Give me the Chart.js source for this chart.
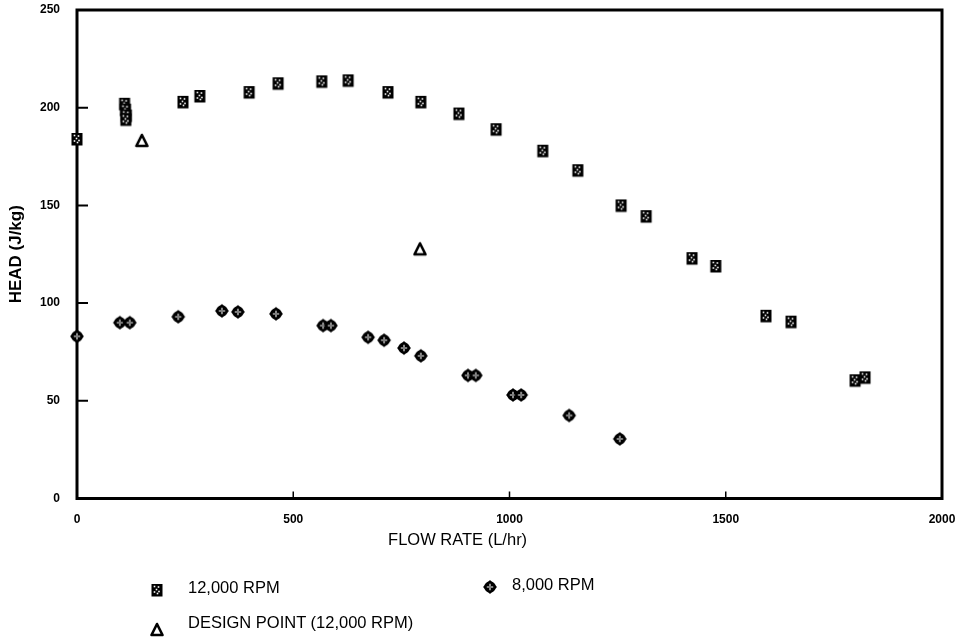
<!DOCTYPE html>
<html><head><meta charset="utf-8">
<script src="https://cdn.jsdelivr.net/npm/chart.js@4.4.1/dist/chart.umd.min.js"></script>
<style>
html,body{margin:0;padding:0;background:#fff;}
#wrap{position:relative;width:961px;height:641px;overflow:hidden;}
#c{position:absolute;left:0;top:0;}
.lg{position:absolute;font-family:"Liberation Sans",Arial,sans-serif;font-size:16.5px;color:#000;line-height:1;white-space:nowrap;}
.lm{position:absolute;}
</style></head><body>
<div id="wrap"><canvas id="c" width="961" height="641"></canvas><div id="legend"></div></div>
<script>
// ---- data ----
const seriesNames = ['12,000 RPM', '8,000 RPM', 'DESIGN POINT (12,000 RPM)'];
const flow12k = [0, 110, 112, 114, 113, 245, 284, 398, 465, 566, 627, 719, 795, 883, 969, 1077, 1158, 1258, 1316, 1422, 1477, 1593, 1651, 1799, 1822];
const head12k = [184, 202, 199, 196, 194, 203, 206, 208, 212.5, 213.5, 214, 208, 203, 197, 189, 178, 168, 150, 144.5, 123, 119, 93.5, 90.5, 60.5, 62];
const flow8k = [0, 99, 122, 234, 335, 372, 460, 569, 587, 673, 710, 756, 795, 904, 922, 1008, 1027, 1138, 1255];
const head8k = [83, 90, 90, 93, 96, 95.5, 94.5, 88.5, 88.5, 82.5, 81, 77, 73, 63, 63, 53, 53, 42.5, 30.5];
const flowDesign = [150, 793];
const headDesign = [183, 127.5];
const xTickValues = [0, 500, 1000, 1500, 2000];
const yTickValues = [0, 50, 100, 150, 200, 250];
const xTitle = 'FLOW RATE (L/hr)';
const yTitle = 'HEAD (J/kg)';

// ---- marker drawing ----
function drawMarker(g, type, c) {
  if (type === 'sq') {
    g.fillStyle = '#000';
    g.fillRect(c - 5.5, c - 6, 11, 12.5);
    g.fillStyle = '#fff';
    [[-2.5, -3.5], [1.5, -3], [-0.5, -0.5], [2, 1.5], [-2.5, 2], [0.5, 3.5]].forEach(([dx, dy]) => {
      g.fillRect(c + dx - 0.8, c + dy - 0.8, 1.6, 1.6);
    });
  } else if (type === 'dia') {
    g.fillStyle = '#000';
    g.beginPath();
    g.moveTo(c, c - 7); g.lineTo(c + 7, c); g.lineTo(c, c + 7); g.lineTo(c - 7, c); g.closePath();
    g.fill();
    g.beginPath(); g.arc(c, c, 5.8, 0, Math.PI * 2); g.fill();
    g.strokeStyle = '#fff'; g.lineWidth = 1.1;
    g.beginPath();
    g.moveTo(c - 3.2, c); g.lineTo(c + 3.2, c);
    g.moveTo(c, c - 3.2); g.lineTo(c, c + 3.2);
    g.stroke();
    g.fillStyle = '#000'; g.fillRect(c - 0.6, c - 0.6, 1.2, 1.2);
  } else {
    g.fillStyle = '#fff'; g.strokeStyle = '#000'; g.lineWidth = 2.6; g.lineJoin = 'round';
    g.beginPath();
    g.moveTo(c, c - 6); g.lineTo(c + 5.5, c + 5); g.lineTo(c - 5.5, c + 5); g.closePath();
    g.fill(); g.stroke();
  }
}
function makeMarker(type) {
  const s = 18, cv = document.createElement('canvas');
  cv.width = s; cv.height = s;
  drawMarker(cv.getContext('2d'), type, s / 2);
  return cv;
}
const markerTypes = ['sq', 'dia', 'tri'];
const markers = markerTypes.map(makeMarker);

const toPts = (xs, ys) => xs.map((v, i) => ({ x: v, y: ys[i] }));

const framePlugin = {
  id: 'frame',
  beforeDatasetsDraw(chart) {
    const { ctx, chartArea: a, scales: { x, y } } = chart;
    ctx.save();
    ctx.strokeStyle = '#000';
    ctx.lineWidth = 3;
    ctx.strokeRect(a.left, a.top, a.right - a.left, a.bottom - a.top);
    ctx.lineWidth = 2;
    ctx.beginPath();
    yTickValues.forEach(v => {
      if (v <= y.min || v >= y.max) return;
      const py = y.getPixelForValue(v);
      ctx.moveTo(a.left, py); ctx.lineTo(a.left + 11, py);
    });
    ctx.stroke();
    ctx.lineWidth = 1.5;
    ctx.beginPath();
    xTickValues.forEach(v => {
      if (v <= x.min || v >= x.max) return;
      const px = x.getPixelForValue(v);
      ctx.moveTo(px, a.bottom); ctx.lineTo(px, a.bottom - 7);
    });
    ctx.stroke();
    ctx.fillStyle = '#000';
    ctx.font = '16.5px "Liberation Sans", Arial, sans-serif';
    ctx.textAlign = 'center';
    ctx.textBaseline = 'middle';
    ctx.fillText(xTitle, a.left + 0.44 * (a.right - a.left), a.bottom + 42);
    ctx.restore();
  }
};

const tickFont = { family: '"Liberation Sans", Arial, sans-serif', size: 12, weight: 'bold' };

new Chart(document.getElementById('c'), {
  type: 'scatter',
  data: {
    datasets: [
      { label: seriesNames[0], data: toPts(flow12k, head12k), pointStyle: markers[0], pointRadius: 8, clip: false },
      { label: seriesNames[1], data: toPts(flow8k, head8k), pointStyle: markers[1], pointRadius: 8, clip: false },
      { label: seriesNames[2], data: toPts(flowDesign, headDesign), pointStyle: markers[2], pointRadius: 8, clip: false }
    ]
  },
  options: {
    responsive: false,
    animation: false,
    events: [],
    layout: { padding: { left: 0, top: 10, right: 19, bottom: 82 } },
    plugins: { legend: { display: false }, tooltip: { enabled: false } },
    scales: {
      x: {
        type: 'linear', min: 0, max: 2000,
        afterBuildTicks: s => { s.ticks = xTickValues.map(v => ({ value: v })); },
        afterFit: s => { s.height = 60.5; s.paddingLeft = 0; s.paddingRight = 0; s.paddingTop = 0; s.paddingBottom = 0; },
        grid: { display: false, drawTicks: false },
        border: { display: false },
        ticks: { font: tickFont, color: '#000', padding: 14, maxRotation: 0, callback: v => String(v) }
      },
      y: {
        type: 'linear', min: 0, max: 250,
        afterBuildTicks: s => { s.ticks = yTickValues.map(v => ({ value: v })); },
        afterFit: s => { s.width = 77; s.paddingLeft = 0; s.paddingRight = 0; s.paddingTop = 0; s.paddingBottom = 0; },
        grid: { display: false, drawTicks: false },
        border: { display: false },
        ticks: { font: tickFont, color: '#000', padding: 17, callback: v => String(v) },
        title: { display: true, text: yTitle, color: '#000', padding: { top: 6, bottom: 0 },
                 font: { family: '"Liberation Sans", Arial, sans-serif', size: 17, weight: 'bold' } }
      }
    }
  },
  plugins: [framePlugin]
});

// ---- HTML legend ----
const legendPos = [
  { mx: 157, my: 590, tx: 188, ty: 587 },
  { mx: 490, my: 587, tx: 512, ty: 584 },
  { mx: 157, my: 630, tx: 188, ty: 622 }
];
const lg = document.getElementById('legend');
seriesNames.forEach((name, i) => {
  const p = legendPos[i];
  const cv = makeMarker(markerTypes[i]);
  cv.className = 'lm';
  cv.style.left = (p.mx - 9) + 'px';
  cv.style.top = (p.my - 9) + 'px';
  lg.appendChild(cv);
  const t = document.createElement('div');
  t.className = 'lg';
  t.textContent = name;
  t.style.left = p.tx + 'px';
  t.style.top = (p.ty - 8) + 'px';
  lg.appendChild(t);
});
</script>
</body></html>
